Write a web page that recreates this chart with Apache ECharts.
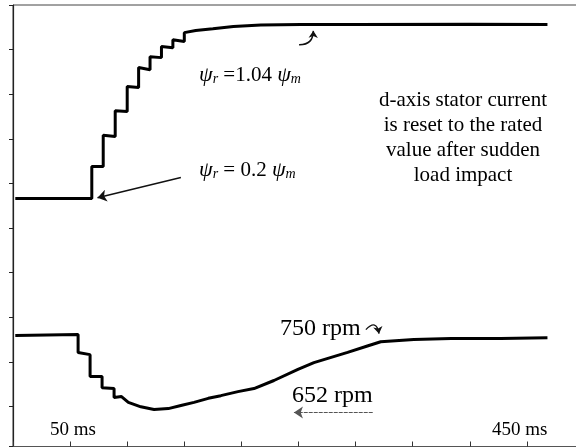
<!DOCTYPE html>
<html>
<head>
<meta charset="utf-8">
<script src="https://cdn.jsdelivr.net/npm/echarts@6/dist/echarts.min.js"></script>
<style>
  html, body { margin: 0; padding: 0; background: #fff; }
  #chart { width: 576px; height: 448px; }
</style>
</head>
<body>
<div id="chart"></div>
<script>
// time in ms, level in screen divisions counted down from the top edge
const fluxTime = [2, 69, 69, 79, 79, 89.5, 89.5, 100, 100, 110, 110, 120, 120, 130, 130, 140, 140, 150, 150, 160, 175, 193, 217, 252, 300, 400, 468];
const fluxLevel = [4.34, 4.34, 3.62, 3.62, 2.92, 2.95, 2.37, 2.39, 1.83, 1.85, 1.40, 1.45, 1.16, 1.18, 0.93, 0.96, 0.78, 0.82, 0.62, 0.57, 0.53, 0.48, 0.45, 0.44, 0.44, 0.43, 0.44];

const speedTime = [2, 57, 57, 67.5, 67.5, 78, 78, 88.5, 88.5, 95, 101, 112, 123.5, 136, 147, 158.5, 171, 182, 197, 211, 228.5, 249.5, 263.5, 293, 311, 322, 351, 383.5, 427, 468];
const speedLevel = [7.41, 7.39, 7.79, 7.84, 8.33, 8.33, 8.58, 8.60, 8.80, 8.78, 8.91, 9.01, 9.07, 9.05, 8.98, 8.91, 8.82, 8.76, 8.67, 8.60, 8.42, 8.17, 8.02, 7.79, 7.64, 7.55, 7.50, 7.48, 7.48, 7.46];

const timeLabels = ['50 ms', '450 ms'];
const noteText = ['d-axis stator current', 'is reset to the rated', 'value after sudden', 'load impact'];

const serif = "'Liberation Serif', 'Times New Roman', serif";
const zip = (xs, ys) => xs.map((x, i) => [x, ys[i]]);

const chart = echarts.init(document.getElementById('chart'));

const psiRich = {
    g: { fontFamily: serif, fontSize: 22, fontStyle: 'italic', fill: '#000' },
    s: { fontFamily: serif, fontSize: 14, fontStyle: 'italic', fill: '#000', padding: [9, 0, 0, 0] },
    n: { fontFamily: serif, fontSize: 21, fill: '#000' }
};

// pointer arrows, in the same ms / division units as the traces
const arrows = [
    { coords: [[147, 3.87], [74, 4.32]], lineStyle: { color: '#111', width: 1.5, curveness: 0 } },
    { coords: [[250.5, 0.89], [263, 0.58]], symbolSize: 7, lineStyle: { color: '#111', width: 1.5, curveness: -0.5 } },
    { coords: [[315, 9.14], [246, 9.14]], lineStyle: { color: '#555', width: 1.2, type: [4, 1], curveness: 0 } },
    { coords: [[309, 7.28], [320.5, 7.37]], symbolSize: 7, lineStyle: { color: '#111', width: 1.3, curveness: 1.0 } }
];

const option = {
    animation: false,
    backgroundColor: '#fff',
    grid: {
        left: 13, top: 5, width: 571, height: 441.5,
        outerBoundsMode: 'none',
        containLabel: false,
        show: true, borderColor: '#444', borderWidth: 1
    },
    xAxis: {
        type: 'value', min: 0, max: 500, interval: 50,
        axisLine: { onZero: false, lineStyle: { color: '#555', width: 1 } },
        axisTick: { inside: true, length: 5, lineStyle: { color: '#333' } },
        axisLabel: { show: false },
        splitLine: { show: false }
    },
    yAxis: {
        type: 'value', inverse: true, min: 0, max: 9.9, interval: 1,
        axisLine: { show: true, onZero: false, lineStyle: { color: '#222', width: 1.2 } },
        axisTick: { show: true, inside: false, length: 4, lineStyle: { color: '#222' } },
        axisLabel: { show: false },
        splitLine: { show: false }
    },
    series: [
        {
            name: 'flux',
            type: 'line',
            data: zip(fluxTime, fluxLevel),
            showSymbol: false,
            lineStyle: { color: '#000', width: 3 }
        },
        {
            name: 'speed',
            type: 'line',
            data: zip(speedTime, speedLevel),
            showSymbol: false,
            lineStyle: { color: '#000', width: 3 }
        },
        {
            name: 'arrows',
            type: 'lines',
            coordinateSystem: 'cartesian2d',
            silent: true,
            symbol: ['none', 'arrow'],
            symbolSize: 9,
            lineStyle: { opacity: 1 },
            data: arrows
        }
    ],
    graphic: [
        {
            type: 'text', x: 199, y: 75,
            style: { text: '{g|ψ}{s|r}{n| =1.04 }{g|ψ}{s|m}', rich: psiRich, verticalAlign: 'middle' }
        },
        {
            type: 'text', x: 199, y: 170,
            style: { text: '{g|ψ}{s|r}{n| = 0.2 }{g|ψ}{s|m}', rich: psiRich, verticalAlign: 'middle' }
        },
        {
            type: 'text', x: 463, y: 137.5,
            style: {
                text: noteText.join('\n'), fontFamily: serif, fontSize: 21, lineHeight: 25,
                align: 'center', verticalAlign: 'middle', fill: '#000'
            }
        },
        {
            type: 'text', x: 280, y: 329,
            style: { text: '750 rpm', fontFamily: serif, fontSize: 24, verticalAlign: 'middle', fill: '#000' }
        },
        {
            type: 'text', x: 292, y: 396,
            style: { text: '652 rpm', fontFamily: serif, fontSize: 24, verticalAlign: 'middle', fill: '#000' }
        },
        {
            type: 'text', x: 50, y: 430,
            style: { text: timeLabels[0], fontFamily: serif, fontSize: 19, verticalAlign: 'middle', fill: '#000' }
        },
        {
            type: 'text', x: 492, y: 430,
            style: { text: timeLabels[1], fontFamily: serif, fontSize: 19, verticalAlign: 'middle', fill: '#000' }
        }
    ]
};

chart.setOption(option);
</script>
</body>
</html>
